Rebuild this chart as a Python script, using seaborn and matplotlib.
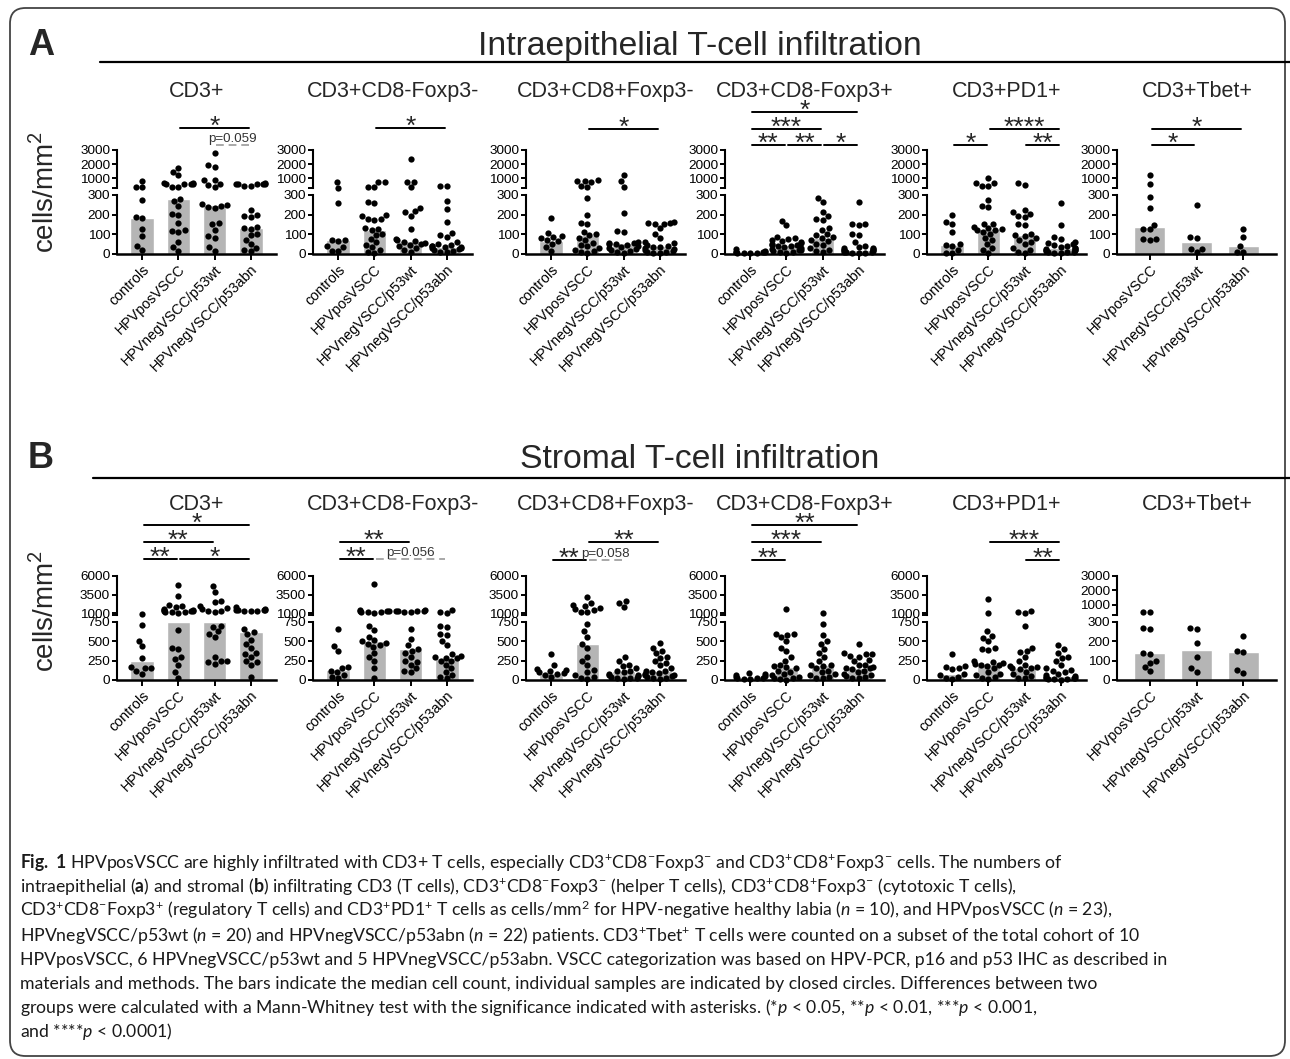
import warnings
import numpy as np
import pandas as pd
import matplotlib
matplotlib.use("Agg")
import matplotlib.pyplot as plt
import matplotlib.transforms as mtransforms
from matplotlib.patches import FancyBboxPatch
from matplotlib.lines import Line2D
from matplotlib import font_manager
import seaborn as sns

warnings.filterwarnings("ignore")

# groups and markers
groups = ["controls", "HPVposVSCC", "HPVnegVSCC/p53wt", "HPVnegVSCC/p53abn"]
groups_tbet = ["HPVposVSCC", "HPVnegVSCC/p53wt", "HPVnegVSCC/p53abn"]
markers = ["CD3+", "CD3+CD8-Foxp3-", "CD3+CD8+Foxp3-", "CD3+CD8-Foxp3+", "CD3+PD1+", "CD3+Tbet+"]

# A: intraepithelial, cells/mm2 (one list per group), bars = medians
intra_cd3 = [
    [830, 400, 380, 275, 187, 182, 126, 89, 42, 22],
    [1720, 1430, 1240, 640, 620, 600, 590, 580, 570, 380, 360, 282, 270, 245, 205, 200, 160, 120, 115, 110, 60, 35, 15],
    [2760, 1900, 1800, 850, 850, 600, 500, 400, 252, 248, 245, 240, 235, 160, 150, 120, 90, 80, 35, 15],
    [620, 610, 600, 600, 590, 580, 450, 420, 225, 200, 195, 190, 135, 130, 128, 100, 95, 70, 50, 30, 20, 15],
]
intra_cd3_med = [184, 282, 250, 133]

intra_helper = [
    [760, 330, 258, 72, 70, 68, 40, 38, 17, 15],
    [710, 700, 350, 340, 266, 258, 200, 195, 180, 178, 175, 130, 125, 120, 100, 95, 75, 60, 45, 35, 20, 10, 5],
    [2350, 720, 700, 350, 235, 220, 215, 195, 125, 75, 70, 65, 60, 55, 50, 45, 40, 30, 20, 10],
    [420, 410, 270, 230, 165, 105, 95, 85, 60, 50, 45, 42, 40, 38, 35, 30, 28, 25, 20, 15, 12, 8],
]
intra_helper_med = [70, 122, 68, 38]

intra_cyto = [
    [185, 105, 90, 85, 80, 70, 65, 50, 35, 15],
    [850, 820, 780, 760, 420, 400, 285, 200, 160, 155, 110, 100, 95, 80, 70, 55, 45, 40, 30, 20, 15, 10, 5],
    [1230, 780, 370, 210, 115, 110, 60, 58, 55, 52, 50, 48, 40, 35, 30, 25, 20, 15, 10, 5],
    [165, 160, 158, 155, 150, 130, 100, 80, 60, 55, 45, 40, 38, 35, 30, 25, 20, 15, 12, 10, 5, 3],
]
intra_cyto_med = [68, 98, 57, 40]

intra_treg = [
    [25, 15, 12, 10, 10, 8, 7, 5, 5, 3],
    [170, 148, 85, 80, 75, 70, 65, 60, 55, 50, 48, 45, 42, 40, 35, 30, 25, 20, 18, 15, 12, 8, 5],
    [285, 262, 215, 195, 180, 175, 130, 120, 100, 95, 85, 80, 70, 65, 50, 45, 30, 20, 15, 10],
    [265, 155, 150, 145, 100, 95, 60, 40, 35, 30, 28, 25, 22, 20, 18, 15, 12, 10, 8, 6, 5, 3],
]
intra_treg_med = [9, 45, 80, 22]

intra_pd1 = [
    [200, 165, 155, 110, 50, 45, 40, 20, 5, 3],
    [1020, 680, 650, 430, 410, 275, 245, 238, 155, 150, 135, 130, 125, 122, 120, 110, 100, 80, 70, 50, 30, 20, 5],
    [620, 500, 225, 215, 205, 195, 190, 150, 145, 100, 95, 90, 80, 70, 60, 50, 30, 20, 10, 5],
    [258, 145, 85, 75, 60, 55, 50, 45, 40, 35, 30, 28, 25, 22, 20, 18, 15, 12, 10, 8, 5, 3],
]
intra_pd1_med = [47, 128, 98, 29]

intra_tbet = [
    [1230, 580, 290, 235, 148, 127, 125, 78, 75, 72],
    [248, 84, 80, 26, 23, 10],
    [126, 84, 40, 12, 12],
]
intra_tbet_med = [135, 62, 42]

# B: stromal
stroma_cd3 = [
    [950, 705, 510, 440, 285, 165, 160, 155, 110, 80],
    [4850, 3300, 2100, 1900, 1800, 1500, 1450, 1400, 1350, 1300, 1250, 1200, 1150, 1100, 1050, 650, 420, 400, 300, 270, 200, 100, 30],
    [4600, 3800, 2600, 2500, 1900, 1700, 1500, 1350, 1300, 1200, 700, 690, 630, 600, 560, 300, 250, 240, 230, 210],
    [1800, 1600, 1450, 1400, 1400, 1380, 1350, 1320, 1300, 660, 620, 590, 520, 470, 420, 350, 330, 300, 250, 230, 200, 40],
]
stroma_cd3_med = [240, 750, 750, 625]

stroma_helper = [
    [660, 440, 380, 170, 160, 120, 100, 60, 40, 20],
    [4980, 1400, 1350, 1300, 1250, 1200, 1150, 1100, 1050, 700, 650, 560, 520, 500, 480, 470, 450, 430, 350, 300, 250, 150, 30],
    [1400, 1350, 1350, 1300, 1250, 1200, 1100, 660, 530, 450, 400, 380, 350, 300, 250, 230, 200, 150, 120, 100],
    [1450, 1200, 1050, 700, 690, 600, 580, 500, 450, 330, 310, 300, 290, 280, 250, 240, 200, 150, 100, 60, 40, 20],
]
stroma_helper_med = [135, 510, 395, 285]

stroma_cyto = [
    [335, 190, 140, 130, 120, 100, 90, 80, 60, 40],
    [3120, 2400, 2100, 1900, 1700, 1500, 1400, 1200, 1100, 720, 630, 560, 470, 420, 300, 250, 200, 130, 100, 60, 40, 20, 10],
    [2600, 2400, 1800, 300, 250, 200, 180, 150, 120, 110, 100, 80, 70, 60, 50, 40, 30, 25, 20, 10],
    [480, 420, 380, 350, 300, 290, 250, 220, 200, 150, 120, 110, 100, 90, 80, 70, 60, 50, 40, 30, 20, 10],
]
stroma_cyto_med = [95, 470, 115, 115]

stroma_treg = [
    [90, 80, 70, 50, 40, 30, 25, 20, 15, 10],
    [1530, 600, 590, 580, 550, 500, 420, 370, 300, 250, 200, 180, 170, 150, 120, 100, 80, 60, 40, 30, 20, 10, 5],
    [1000, 720, 580, 500, 470, 400, 350, 300, 250, 200, 190, 180, 150, 120, 100, 80, 60, 40, 30, 20],
    [460, 350, 340, 330, 310, 300, 260, 250, 200, 190, 170, 160, 150, 140, 120, 100, 80, 60, 50, 40, 30, 20],
]
stroma_treg_med = [35, 170, 195, 160]

stroma_pd1 = [
    [340, 180, 170, 150, 140, 80, 60, 40, 20, 10],
    [2900, 1000, 630, 570, 540, 500, 410, 400, 390, 250, 230, 220, 210, 200, 190, 180, 150, 100, 80, 60, 40, 20, 10],
    [1250, 1150, 1050, 700, 420, 380, 360, 300, 250, 200, 180, 170, 160, 150, 140, 100, 80, 50, 30, 20],
    [450, 400, 350, 300, 280, 250, 200, 150, 130, 120, 100, 80, 60, 50, 40, 30, 25, 20, 15, 10, 8, 5],
]
stroma_pd1_med = [80, 210, 160, 50]

stroma_tbet = [
    [540, 530, 270, 265, 140, 135, 97, 90, 65, 45],
    [270, 265, 190, 120, 60, 40],
    [230, 150, 145, 50, 35],
]
stroma_tbet_med = [138, 155, 145]

# significance bars: (from, to, label, y in px, dashed)
sig_intra = [
    [(1, 3, "*", 128, False), (2, 3, "p=0.059", 145, True)],
    [(1, 3, "*", 128, False)],
    [(1, 3, "*", 129, False)],
    [(0, 3, "*", 112, False), (0, 2, "***", 129, False), (0, 1, "**", 145, False),
     (1, 2, "**", 145, False), (2, 3, "*", 145, False)],
    [(0, 1, "*", 145, False), (1, 3, "****", 129, False), (2, 3, "**", 145, False)],
    [(0, 2, "*", 129, False), (0, 1, "*", 145, False)],
]
sig_stroma = [
    [(0, 3, "*", 525, False), (0, 2, "**", 542, False), (0, 1, "**", 559, False), (1, 3, "*", 559, False)],
    [(0, 2, "**", 542, False), (0, 1, "**", 559, False), (1, 3, "p=0.056", 559, True)],
    [(0, 1, "**", 560, False), (1, 2, "p=0.058", 560, True), (1, 3, "**", 542, False)],
    [(0, 3, "**", 525, False), (0, 2, "***", 542, False), (0, 1, "**", 560, False)],
    [(1, 3, "***", 542, False), (2, 3, "**", 560, False)],
    [],
]

caption = [
    r"$\mathbf{Fig.\ 1}$ HPVposVSCC are highly infiltrated with CD3+ T cells, especially CD3$^{+}$CD8$^{-}$Foxp3$^{-}$ and CD3$^{+}$CD8$^{+}$Foxp3$^{-}$ cells. The numbers of",
    r"intraepithelial ($\mathbf{a}$) and stromal ($\mathbf{b}$) infiltrating CD3 (T cells), CD3$^{+}$CD8$^{-}$Foxp3$^{-}$ (helper T cells), CD3$^{+}$CD8$^{+}$Foxp3$^{-}$ (cytotoxic T cells),",
    r"CD3$^{+}$CD8$^{-}$Foxp3$^{+}$ (regulatory T cells) and CD3$^{+}$PD1$^{+}$ T cells as cells/mm$^{2}$ for HPV-negative healthy labia ($\mathit{n}$ = 10), and HPVposVSCC ($\mathit{n}$ = 23),",
    r"HPVnegVSCC/p53wt ($\mathit{n}$ = 20) and HPVnegVSCC/p53abn ($\mathit{n}$ = 22) patients. CD3$^{+}$Tbet$^{+}$ T cells were counted on a subset of the total cohort of 10",
    "HPVposVSCC, 6 HPVnegVSCC/p53wt and 5 HPVnegVSCC/p53abn. VSCC categorization was based on HPV-PCR, p16 and p53 IHC as described in",
    "materials and methods. The bars indicate the median cell count, individual samples are indicated by closed circles. Differences between two",
    r"groups were calculated with a Mann-Whitney test with the significance indicated with asterisks. (*$\mathit{p}$ < 0.05, **$\mathit{p}$ < 0.01, ***$\mathit{p}$ < 0.001,",
    r"and ****$\mathit{p}$ < 0.0001)",
]
# right end of each caption line in the reference (px), last line not used
caption_ends = [1062, 1027, 1105, 1132, 1133, 1113, 1043, None]

W, H = 1290, 1059
BAR = "#b5b5b5"

sns.set_style("ticks")
installed = {f.name for f in font_manager.fontManager.ttflist}
cap_font = "Lato" if "Lato" in installed else "Liberation Sans"
plt.rcParams["font.family"] = ["Liberation Sans", "DejaVu Sans"]
plt.rcParams["mathtext.fontset"] = "custom"
plt.rcParams["mathtext.rm"] = cap_font
plt.rcParams["mathtext.it"] = cap_font + ":italic"
plt.rcParams["mathtext.bf"] = cap_font + ":bold"
plt.rcParams["axes.edgecolor"] = "black"
plt.rcParams["xtick.color"] = "black"
plt.rcParams["ytick.color"] = "black"

fig = plt.figure(figsize=(W / 100, H / 100), dpi=100)


def fy(y):
    return 1 - y / H


def fbox(x0, y0, x1, y1):
    return [x0 / W, 1 - y1 / H, (x1 - x0) / W, (y1 - y0) / H]


# two scale segments as in the original (broken y axis)
SEG_A = dict(hi=(300, 3000), hi_ticks=[300, 1000, 2000, 3000], lo=(0, 300), lo_ticks=[0, 100, 200, 300])
SEG_B = dict(hi=(750, 6000), hi_ticks=[750, 1000, 3500, 6000], lo=(0, 750), lo_ticks=[0, 250, 500, 750])
x_lefts = [117, 313, 526, 725, 927, 1117]
ROWS_A = ((150, 188), (195, 254))
ROWS_B = ((576, 615), (622, 680))


def draw_sub(x0, rows, seg, cats, values, medians, sigs, title, title_y):
    (h0, h1), (l0, l1) = rows
    ax_hi = fig.add_axes(fbox(x0, h0, x0 + 159, h1))
    ax_lo = fig.add_axes(fbox(x0, l0, x0 + 159, l1))
    pts = pd.DataFrame({"group": np.repeat(cats, [len(v) for v in values]),
                        "cells": np.concatenate(values).astype(float)})
    bars = pd.DataFrame({"group": cats, "median": medians})
    cut = seg["lo"][1]
    parts = [(ax_hi, pts[pts.cells > cut], seg["hi"], seg["hi_ticks"]),
             (ax_lo, pts[pts.cells <= cut], seg["lo"], seg["lo_ticks"])]
    for ax, part, lim, ticks in parts:
        sns.barplot(data=bars, x="group", y="median", order=cats, color=BAR,
                    saturation=1, width=0.66, errorbar=None, ax=ax)
        if len(part):
            sns.swarmplot(data=part, x="group", y="cells", order=cats, color="black",
                          size=4.5, linewidth=0, ax=ax)
        for c in ax.collections:
            c.set_clip_on(False)
        ax.set_ylim(*lim)
        ax.set_xlim(-0.7, len(cats) - 0.3)
        ax.set_yticks(ticks)
        labels = [str(t) for t in ticks]
        if ax is ax_hi:
            labels[0] = ""
        ax.set_yticklabels(labels)
        ax.set_xlabel("")
        ax.set_ylabel("")
        ax.patch.set_visible(False)
        ax.spines["top"].set_visible(False)
        ax.spines["right"].set_visible(False)
        ax.spines["left"].set_linewidth(1.5)
        ax.tick_params(axis="y", length=3.5, width=1.4, labelsize=9.7, pad=1.5)
    ax_hi.spines["bottom"].set_visible(False)
    ax_hi.tick_params(axis="x", bottom=False, labelbottom=False)
    ax_lo.spines["bottom"].set_linewidth(1.8)
    ax_lo.set_xticks(range(len(cats)))
    ax_lo.set_xticklabels(cats, rotation=45, ha="right", rotation_mode="anchor", fontsize=10.3)
    ax_lo.tick_params(axis="x", length=4, width=1.4, pad=2)

    fig.text((x0 + 80) / W, fy(title_y), title, ha="center", va="baseline", fontsize=15.5)

    tr = mtransforms.blended_transform_factory(ax_hi.transData, fig.transFigure)
    for i, j, label, ypx, dashed in sigs:
        xs = [i + 0.05, j - 0.05]
        if dashed:
            fig.add_artist(Line2D(xs, [fy(ypx)] * 2, transform=tr, color="#a8a8a8",
                                  lw=1.4, ls=(0, (4, 2.5))))
            fig.text((i + j) / 2, fy(ypx - 3), label, transform=tr, ha="center",
                     va="baseline", fontsize=9.6, color="#333333")
        else:
            fig.add_artist(Line2D(xs, [fy(ypx)] * 2, transform=tr, color="black", lw=1.4))
            fig.text((i + j) / 2, fy(ypx + 5.5), label, transform=tr, ha="center",
                     va="baseline", fontsize=19)


intra = [(intra_cd3, intra_cd3_med), (intra_helper, intra_helper_med), (intra_cyto, intra_cyto_med),
         (intra_treg, intra_treg_med), (intra_pd1, intra_pd1_med), (intra_tbet, intra_tbet_med)]
stroma = [(stroma_cd3, stroma_cd3_med), (stroma_helper, stroma_helper_med), (stroma_cyto, stroma_cyto_med),
          (stroma_treg, stroma_treg_med), (stroma_pd1, stroma_pd1_med), (stroma_tbet, stroma_tbet_med)]

for k, (vals, med) in enumerate(intra):
    cats = groups_tbet if k == 5 else groups
    draw_sub(x_lefts[k], ROWS_A, SEG_A, cats, vals, med, sig_intra[k], markers[k], 97)

for k, (vals, med) in enumerate(stroma):
    cats = groups_tbet if k == 5 else groups
    seg = SEG_A if k == 5 else SEG_B
    draw_sub(x_lefts[k], ROWS_B, seg, cats, vals, med, sig_stroma[k], markers[k], 510)

# panel headers
for letter, title, base, line_y, line_x in (("A", "Intraepithelial T-cell infiltration", 55, 62, 100),
                                            ("B", "Stromal T-cell infiltration", 468, 478, 93)):
    fig.text(28 / W, fy(base), letter, fontsize=26, fontweight="bold", ha="left", va="baseline")
    fig.text(700 / W, fy(base), title, fontsize=24.3, ha="center", va="baseline")
    fig.add_artist(Line2D([line_x / W, 1290 / W], [fy(line_y)] * 2, color="black", lw=1.6))

fig.text(45 / W, fy(192), "cells/mm$^2$", rotation=90, fontsize=20, ha="center", va="center")
fig.text(45 / W, fy(611), "cells/mm$^2$", rotation=90, fontsize=20, ha="center", va="center")

# caption, size fitted to the line widths of the original
cap_texts = [fig.text(20 / W, fy(868 + 24.2 * k), line, ha="left", va="baseline",
                      fontsize=13, family=cap_font, color="#1a1a1a")
             for k, line in enumerate(caption)]
fig.canvas.draw()
rend = fig.canvas.get_renderer()
ratios = [(end - 20) / t.get_window_extent(rend).width
          for t, end in zip(cap_texts, caption_ends) if end]
for t in cap_texts:
    t.set_fontsize(13 * float(np.median(ratios)))

frame = FancyBboxPatch((10 / W, fy(1056)), 1275 / W, 1048 / H,
                       boxstyle="round,pad=0,rounding_size=0.012", mutation_aspect=W / H,
                       transform=fig.transFigure, fill=False, ec="#444444", lw=1.3)
fig.add_artist(frame)

fig.savefig("out.png", dpi=100)
